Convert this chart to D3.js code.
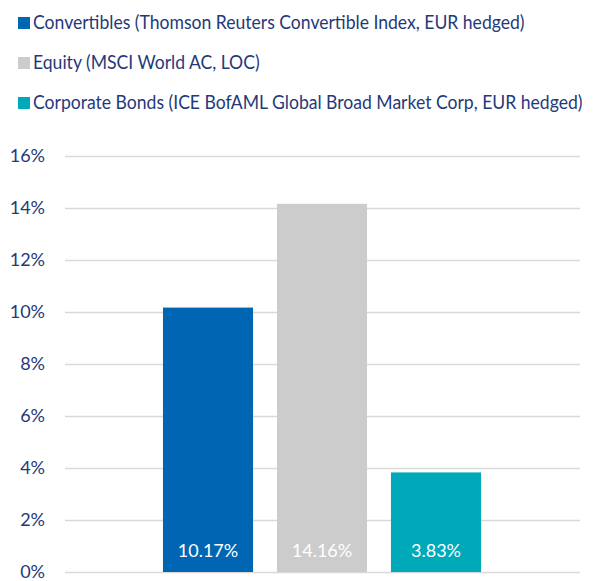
<!DOCTYPE html>
<html>
<head>
<meta charset="utf-8">
<script src="https://cdn.jsdelivr.net/npm/d3@7"></script>
<style>
  body { margin: 0; background: #fff; }
  text { font-family: Lato, 'Open Sans', sans-serif; }
</style>
</head>
<body>
<div id="chart"></div>
<script>
var series = ['Convertibles', 'Equity', 'Corporate Bonds']
var legendLabels = [
  'Convertibles (Thomson Reuters Convertible Index, EUR hedged)',
  'Equity (MSCI World AC, LOC)',
  'Corporate Bonds (ICE BofAML Global Broad Market Corp, EUR hedged)'
]
var values = [10.17, 14.16, 3.83]
var colors = ['#0066b3', '#cccccc', '#00a9b9']
var yTicks = [0, 2, 4, 6, 8, 10, 12, 14, 16]

var W = 594, H = 581
var textColor = '#1f3a7a'

var svg = d3.select('#chart').append('svg')
  .attr('width', W)
  .attr('height', H)

// legend
var legend = svg.append('g')
var legendItems = legend.selectAll('g')
  .data(legendLabels)
  .enter()
  .append('g')
  .attr('transform', function (d, i) { return 'translate(18,' + (17 + i * 40) + ')' })

legendItems.append('rect')
  .attr('width', 12).attr('height', 12)
  .attr('fill', function (d, i) { return colors[i] })

var legendText = legendItems.append('text')
  .attr('fill', textColor)
  .style('font-size', '19.5px')
  .text(function (d) { return d })

// squeeze horizontally so the longest line fits like the narrow original font
var longest = d3.max(legendText.nodes(), function (n) { return n.getComputedTextLength() })
var squeeze = 550 / longest
legendText.attr('transform', 'translate(15,11.5) scale(' + squeeze + ',1)')

var y = d3.scaleLinear().domain([0, 16]).range([572, 156])
var x = d3.scaleBand().domain(series).range([151, 493])
  .paddingInner(0.21).paddingOuter(0.105)

// grid
svg.append('g')
  .attr('transform', 'translate(65,0)')
  .call(d3.axisLeft(y).tickValues(yTicks).tickSize(-515).tickFormat(''))
  .call(function (g) {
    g.select('.domain').remove()
    g.selectAll('.tick line').attr('stroke', '#d9d9d9').attr('stroke-width', 1.5)
  })

// y labels
svg.append('g')
  .attr('transform', 'translate(45,0)')
  .call(d3.axisLeft(y).tickValues(yTicks).tickSize(0).tickPadding(0)
    .tickFormat(function (d) { return d + '%' }))
  .call(function (g) {
    g.select('.domain').remove()
    g.selectAll('text')
      .attr('fill', textColor)
      .attr('dy', '0.3em')
      .style('font-size', '18px')
      .style('font-family', 'Lato, sans-serif')
  })

// bars
svg.selectAll('.bar')
  .data(values)
  .enter()
  .append('rect')
  .attr('class', 'bar')
  .attr('x', function (d, i) { return x(series[i]) })
  .attr('y', function (d) { return y(d) })
  .attr('width', x.bandwidth())
  .attr('height', function (d) { return y(0) - y(d) })
  .attr('fill', function (d, i) { return colors[i] })

svg.selectAll('.val')
  .data(values)
  .enter()
  .append('text')
  .attr('class', 'val')
  .attr('x', function (d, i) { return x(series[i]) + x.bandwidth() / 2 })
  .attr('y', 557)
  .attr('text-anchor', 'middle')
  .attr('fill', '#fff')
  .style('font-size', '18px')
  .text(function (d) { return d.toFixed(2) + '%' })
</script>
</body>
</html>
